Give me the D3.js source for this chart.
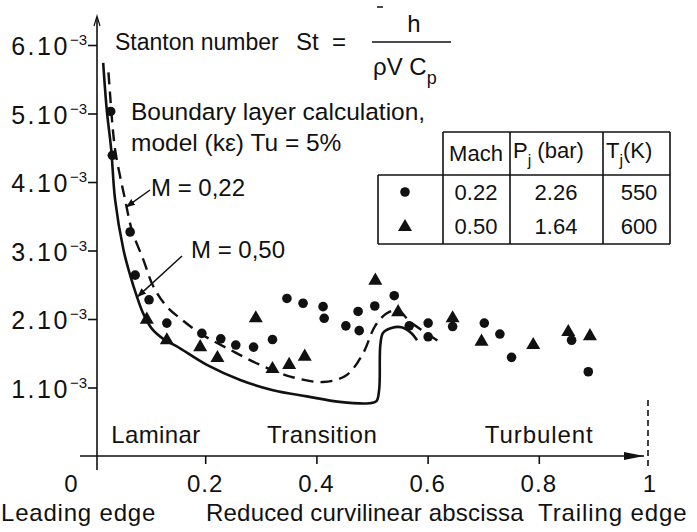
<!DOCTYPE html>
<html><head><meta charset="utf-8">
<script src="https://cdn.jsdelivr.net/npm/d3@7"></script>
<style>
body{margin:0;background:#fff}
svg{display:block}
text{font-family:"Liberation Sans",Arial,Helvetica,sans-serif;fill:#111}
</style>
</head><body>
<svg id="c" width="697" height="532"></svg>
<script>
// ---------- DATA (Stanton number in units of 1e-3) ----------
const circleX  = [0.030,0.033,0.065,0.074,0.099,0.131,0.194,0.228,0.255,0.287,0.321,0.347,0.376,0.412,0.414,0.453,0.475,0.477,0.505,0.540,0.567,0.601,0.601,0.645,0.702,0.730,0.751,0.859,0.889];
const circleSt = [5.03,4.39,3.27,2.64,2.28,1.94,1.79,1.71,1.62,1.59,1.70,2.30,2.23,2.18,2.01,1.90,2.11,1.83,2.19,2.34,1.90,1.94,1.74,1.89,1.94,1.78,1.44,1.69,1.23];

const triangleX  = [0.095,0.131,0.191,0.222,0.291,0.321,0.351,0.379,0.506,0.547,0.645,0.697,0.790,0.853,0.892];
const triangleSt = [1.99,1.69,1.59,1.43,2.01,1.27,1.33,1.45,2.56,2.10,2.01,1.67,1.62,1.81,1.75];

// boundary layer calculation, M = 0.50 (solid)
const calc050X  = [0.0165,0.023,0.031,0.038,0.053,0.065,0.077,0.088,0.104,0.128,0.149,0.203,0.263,0.322,0.383,0.442,0.495,0.508,0.513,0.515,0.520,0.535,0.553,0.570,0.581];
const calc050St = [5.74,5.05,4.47,3.74,3.01,2.64,2.33,2.09,1.86,1.69,1.60,1.33,1.11,0.96,0.87,0.79,0.77,0.80,0.98,1.62,1.80,1.87,1.88,1.80,1.69];

// boundary layer calculation, M = 0.22 (dashed)
const calc022X  = [0.026,0.029,0.033,0.038,0.047,0.056,0.068,0.089,0.107,0.131,0.158,0.191,0.245,0.299,0.353,0.412,0.454,0.484,0.505,0.526,0.547,0.568,0.595,0.622];
const calc022St = [5.60,5.27,4.85,4.47,4.08,3.74,3.30,2.86,2.47,2.18,1.99,1.79,1.55,1.33,1.16,1.08,1.18,1.50,1.89,2.08,2.13,1.96,1.81,1.66];

const yTickValues = [1,2,3,4,5,6];
const yTickLabels = ["1.10","2.10","3.10","4.10","5.10","6.10"];
const yTickExp = "\u22123";
const xTickValues = [0.2,0.4,0.6,0.8,1];
const xTickLabels = ["0.2","0.4","0.6","0.8","1"];

const tableMach = ["0.22","0.50"];
const tablePj   = ["2.26","1.64"];
const tableTj   = ["550","600"];

// ---------- DRAWING ----------
const ink = "#111";
const svg = d3.select("#c");
const x = d3.scaleLinear().domain([0,1]).range([94,650]);
const y = d3.scaleLinear().domain([0,6]).range([456,45]);

const defs = svg.append("defs");
defs.append("marker").attr("id","ah").attr("viewBox","0 0 10 10").attr("refX",9).attr("refY",5)
  .attr("markerWidth",9).attr("markerHeight",9).attr("markerUnits","userSpaceOnUse").attr("orient","auto")
  .append("path").attr("d","M0,1 L10,5 L0,9 z").attr("fill",ink);

// Y axis
const axX = 97;
const gy = svg.append("g").attr("transform",`translate(${axX},0)`)
  .call(d3.axisLeft(y).tickValues(yTickValues).tickSize(9).tickFormat(""));
gy.select(".domain").remove();
gy.selectAll(".tick line").attr("stroke",ink).attr("stroke-width",1.6);
svg.append("line").attr("x1",axX).attr("x2",axX).attr("y1",18).attr("y2",470)
  .attr("stroke",ink).attr("stroke-width",1.6);
svg.append("path").attr("d",`M${axX-3},26 L${axX},16 L${axX+3},26`).attr("fill","none").attr("stroke",ink).attr("stroke-width",1.2);

const yl = svg.selectAll(".ylab").data(yTickValues).join("text").attr("class","ylab")
  .attr("x",87).attr("y",d=>y(d)+10).attr("text-anchor","end");
yl.append("tspan").attr("font-size",25).attr("letter-spacing",2.5).text((d,i)=>yTickLabels[i]);
yl.append("tspan").attr("font-size",15).attr("dy",-10).text(yTickExp);

// X axis
const gx = svg.append("g").attr("transform",`translate(0,${y(0)})`)
  .call(d3.axisBottom(x).tickValues(xTickValues.slice(0,4)).tickSize(8).tickFormat(""));
gx.select(".domain").remove();
gx.selectAll(".tick line").attr("stroke",ink).attr("stroke-width",1.6);
svg.append("line").attr("x1",80).attr("x2",x(1)-6).attr("y1",y(0)).attr("y2",y(0))
  .attr("stroke",ink).attr("stroke-width",1.6);
svg.append("path").attr("d",`M${x(1)-26},${y(0)-4} L${x(1)-6},${y(0)} L${x(1)-26},${y(0)+4} z`).attr("fill",ink);
// trailing edge dashed marker
svg.append("line").attr("x1",x(1)-2).attr("x2",x(1)-2).attr("y1",400).attr("y2",470)
  .attr("stroke",ink).attr("stroke-width",1.6).attr("stroke-dasharray","6,4");

svg.selectAll(".xlab").data(xTickValues).join("text").attr("class","xlab")
  .attr("x",d=>x(d)).attr("y",492).attr("text-anchor","middle").attr("font-size",24).attr("letter-spacing",1)
  .text((d,i)=>xTickLabels[i]);
svg.append("text").attr("x",x(0)-23).attr("y",492).attr("text-anchor","middle").attr("font-size",24).text("0");

svg.append("text").attr("x",1).attr("y",521).attr("font-size",24).attr("letter-spacing",0.8).text("Leading edge");
svg.append("text").attr("x",206).attr("y",521).attr("font-size",24).attr("letter-spacing",0.2).text("Reduced curvilinear abscissa");
svg.append("text").attr("x",538).attr("y",521).attr("font-size",24).attr("letter-spacing",0.9).text("Trailing edge");

// regime labels
svg.append("text").attr("x",x(0.031)).attr("y",y(0.19)).attr("font-size",24).attr("letter-spacing",0.4).text("Laminar");
svg.append("text").attr("x",x(0.311)).attr("y",y(0.19)).attr("font-size",24).attr("letter-spacing",0.6).text("Transition");
svg.append("text").attr("x",x(0.703)).attr("y",y(0.19)).attr("font-size",24).attr("letter-spacing",0.9).text("Turbulent");

// Calculation curves
const line = d3.line().x(d=>x(d[0])).y(d=>y(d[1])).curve(d3.curveCatmullRom.alpha(0.5));
svg.append("path").attr("d",line(d3.zip(calc050X,calc050St)))
  .attr("fill","none").attr("stroke",ink).attr("stroke-width",2.6);
svg.append("path").attr("d",line(d3.zip(calc022X,calc022St)))
  .attr("fill","none").attr("stroke",ink).attr("stroke-width",2.4).attr("stroke-dasharray","12,7");

// Measured points
svg.selectAll(".pc").data(d3.zip(circleX,circleSt)).join("circle").attr("class","pc")
  .attr("cx",d=>x(d[0])).attr("cy",d=>y(d[1])).attr("r",4.8).attr("fill",ink);
const tri = d3.symbol().type(d3.symbolTriangle).size(85);
svg.selectAll(".pt").data(d3.zip(triangleX,triangleSt)).join("path").attr("class","pt")
  .attr("transform",d=>`translate(${x(d[0])},${y(d[1])})`).attr("d",tri()).attr("fill",ink);

// Formula
svg.append("text").attr("x",115).attr("y",50).attr("font-size",23).text("Stanton number");
svg.append("text").attr("x",296).attr("y",50).attr("font-size",24).text("St");
svg.append("text").attr("x",332).attr("y",50).attr("font-size",24).text("=");
svg.append("line").attr("x1",372).attr("x2",451).attr("y1",42).attr("y2",42).attr("stroke",ink).attr("stroke-width",1.5);
svg.append("text").attr("x",414).attr("y",32).attr("font-size",24).attr("text-anchor","middle").text("h");
svg.append("line").attr("x1",377).attr("x2",383).attr("y1",7).attr("y2",7).attr("stroke",ink).attr("stroke-width",1.5);
const den = svg.append("text").attr("x",373).attr("y",75).attr("font-size",24);
den.append("tspan").text("\u03C1V C");
den.append("tspan").attr("font-size",18).attr("dy",9).text("p");

// Calculation annotation
svg.append("text").attr("x",131).attr("y",120).attr("font-size",24.5).text("Boundary layer calculation,");
svg.append("text").attr("x",131).attr("y",151).attr("font-size",24.5).text("model (k\u03B5) Tu = 5%");
svg.append("text").attr("x",151).attr("y",196).attr("font-size",24).text("M = 0,22");
svg.append("text").attr("x",191).attr("y",258).attr("font-size",24).text("M = 0,50");
svg.append("line").attr("x1",150).attr("y1",190).attr("x2",x(0.059)).attr("y2",y(3.64))
  .attr("stroke",ink).attr("stroke-width",1.5).attr("marker-end","url(#ah)");
svg.append("line").attr("x1",182).attr("y1",256).attr("x2",x(0.079)).attr("y2",y(2.33))
  .attr("stroke",ink).attr("stroke-width",1.5).attr("marker-end","url(#ah)");

// Table
const tb = svg.append("g");
const tl = (x1,y1,x2,y2)=>tb.append("line").attr("x1",x1).attr("y1",y1).attr("x2",x2).attr("y2",y2).attr("stroke",ink).attr("stroke-width",1.6);
tl(443,132,670,132); tl(378,175,670,175); tl(378,244,670,244);
tl(378,175,378,244); tl(443,132,443,244); tl(510,132,510,244); tl(603,132,603,244); tl(670,132,670,244);
tb.append("text").attr("x",476).attr("y",161).attr("font-size",22).attr("text-anchor","middle").text("Mach");
const hp = tb.append("text").attr("x",513).attr("y",158).attr("font-size",22);
hp.append("tspan").text("P");
hp.append("tspan").attr("font-size",16).attr("dy",8).text("j");
hp.append("tspan").attr("dy",-8).text(" (bar)");
const ht = tb.append("text").attr("x",606).attr("y",158).attr("font-size",22);
ht.append("tspan").text("T");
ht.append("tspan").attr("font-size",16).attr("dy",8).text("j");
ht.append("tspan").attr("dy",-8).text("(K)");
const rowY = [200,234];
tb.selectAll(".tm").data(tableMach).join("text").attr("x",476).attr("y",(d,i)=>rowY[i]).attr("font-size",22).attr("text-anchor","middle").text(d=>d);
tb.selectAll(".tp").data(tablePj).join("text").attr("x",556).attr("y",(d,i)=>rowY[i]).attr("font-size",22).attr("text-anchor","middle").text(d=>d);
tb.selectAll(".tt").data(tableTj).join("text").attr("x",639).attr("y",(d,i)=>rowY[i]).attr("font-size",22).attr("text-anchor","middle").text(d=>d);
tb.append("circle").attr("cx",405).attr("cy",192).attr("r",4.8).attr("fill",ink);
tb.append("path").attr("transform","translate(405,227)").attr("d",tri()).attr("fill",ink);
</script>
</body></html>
